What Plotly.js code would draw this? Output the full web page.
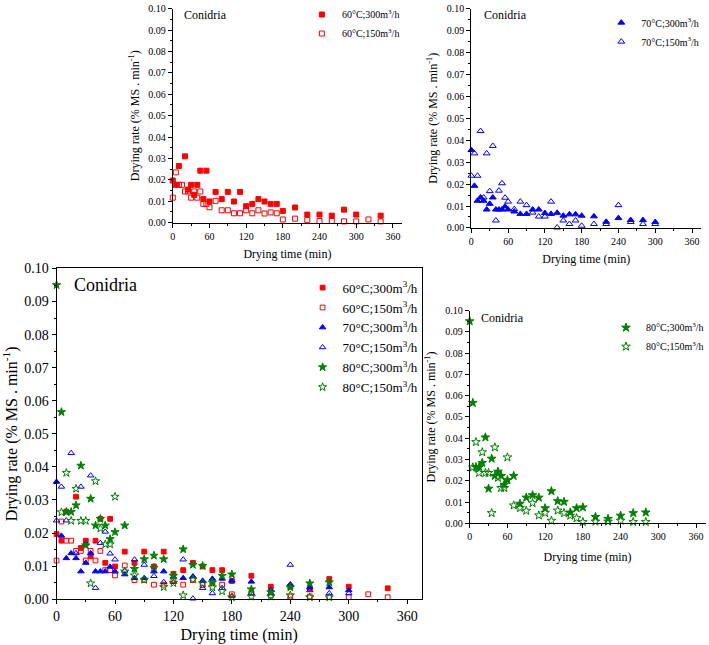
<!DOCTYPE html>
<html>
<head>
<meta charset="utf-8">
<script src="https://cdn.plot.ly/plotly-3.0.1.min.js"></script>
<style>
  html, body { margin: 0; padding: 0; background: #fff; }
  #chart { width: 709px; height: 645px; }
</style>
</head>
<body>
<div id="chart"></div>
<script>
// drying rate (% MS . min-1) vs drying time (min), Conidria
const t60_300 = [0, 5, 10, 20, 25, 30, 35, 40, 45, 50, 55, 60, 70, 80, 90, 100, 110, 120, 130, 140, 150, 160, 170, 180, 200, 220, 240, 260, 280, 300, 340];
const r60_300 = [0.0197, 0.0177, 0.0265, 0.0310, 0.0155, 0.0177, 0.0130, 0.0177, 0.0243, 0.0110, 0.0243, 0.0099, 0.0144, 0.0110, 0.0144, 0.0099, 0.0144, 0.0077, 0.0088, 0.0110, 0.0099, 0.0088, 0.0088, 0.0055, 0.0071, 0.0038, 0.0038, 0.0033, 0.0061, 0.0038, 0.0033];

const t60_150 = [0, 5, 10, 15, 20, 25, 30, 35, 40, 45, 50, 55, 60, 70, 80, 90, 100, 110, 120, 130, 140, 150, 160, 170, 180, 200, 220, 240, 260, 280, 300, 320, 340];
const r60_150 = [0.0117, 0.0235, 0.0177, 0.0177, 0.0146, 0.0146, 0.0117, 0.0146, 0.0117, 0.0146, 0.0088, 0.0088, 0.0072, 0.0102, 0.0058, 0.0058, 0.0044, 0.0044, 0.0058, 0.0044, 0.0058, 0.0043, 0.0048, 0.0044, 0.0015, 0.0019, 0.0012, 0.0008, 0.0008, 0.0006, 0.0006, 0.0015, 0.0006];

const t70_300 = [0, 5, 10, 15, 20, 25, 30, 35, 40, 45, 50, 55, 60, 70, 80, 90, 100, 110, 120, 130, 140, 150, 160, 170, 180, 200, 220, 240, 260, 280, 300];
const r70_300 = [0.0355, 0.0192, 0.0124, 0.0139, 0.0124, 0.0084, 0.0110, 0.0139, 0.0084, 0.0084, 0.0084, 0.0098, 0.0084, 0.0075, 0.0064, 0.0064, 0.0084, 0.0084, 0.0068, 0.0064, 0.0069, 0.0056, 0.0062, 0.0062, 0.0056, 0.0053, 0.0028, 0.0045, 0.0036, 0.0036, 0.0027];

const t70_150 = [0, 5, 10, 15, 20, 25, 30, 35, 40, 45, 50, 55, 60, 70, 80, 90, 100, 110, 120, 130, 140, 150, 160, 170, 180, 200, 220, 240, 260, 280, 300];
const r70_150 = [0.0238, 0.0340, 0.0238, 0.0442, 0.0139, 0.0340, 0.0168, 0.0374, 0.0034, 0.0170, 0.0204, 0.0138, 0.0120, 0.0086, 0.0120, 0.0104, 0.0070, 0.0052, 0.0052, 0.0120, 0.0002, 0.0034, 0.0018, 0.0034, 0.0010, 0.0018, 0.0018, 0.0104, 0.0027, 0.0018, 0.0018];

const t80_300 = [0, 5, 10, 15, 20, 25, 30, 35, 40, 45, 50, 55, 60, 70, 80, 90, 100, 110, 120, 130, 140, 150, 160, 170, 180, 200, 220, 240, 260, 280];
const r80_300 = [0.0950, 0.0566, 0.0264, 0.0264, 0.0284, 0.0404, 0.0163, 0.0304, 0.0223, 0.0243, 0.0223, 0.0182, 0.0203, 0.0223, 0.0092, 0.0121, 0.0132, 0.0121, 0.0071, 0.0151, 0.0104, 0.0101, 0.0051, 0.0071, 0.0075, 0.0030, 0.0021, 0.0036, 0.0048, 0.0051];

const t80_150 = [5, 10, 15, 20, 25, 30, 35, 40, 45, 50, 55, 60, 70, 80, 90, 100, 110, 120, 130, 140, 150, 160, 170, 180, 200, 220, 240, 260, 280];
const r80_150 = [0.0263, 0.0382, 0.0237, 0.0334, 0.0237, 0.0237, 0.0048, 0.0357, 0.0214, 0.0166, 0.0166, 0.0310, 0.0084, 0.0072, 0.0059, 0.0095, 0.0037, 0.0049, 0.0012, 0.0060, 0.0048, 0.0036, 0.0024, 0.0006, 0.0008, 0.0008, 0.0012, 0.0006, 0.0006];

const names = ['60°C;300m<sup>3</sup>/h', '60°C;150m<sup>3</sup>/h', '70°C;300m<sup>3</sup>/h',
               '70°C;150m<sup>3</sup>/h', '80°C;300m<sup>3</sup>/h', '80°C;150m<sup>3</sup>/h'];
const xTicks = [0, 60, 120, 180, 240, 300, 360];

const RED = '#ff0000';
const BLUE = '#0000ff';
const GREEN = '#008000';
const FONT = 'Liberation Serif';

const series = [
  { x: t60_300, y: r60_300, name: names[0], symbol: 'square', color: RED, size: 5 },
  { x: t60_150, y: r60_150, name: names[1], symbol: 'square-open', color: RED, size: 5 },
  { x: t70_300, y: r70_300, name: names[2], symbol: 'triangle-up', color: BLUE, size: 6 },
  { x: t70_150, y: r70_150, name: names[3], symbol: 'triangle-up-open', color: BLUE, size: 6 },
  { x: t80_300, y: r80_300, name: names[4], symbol: 'star', color: GREEN, size: 6.5 },
  { x: t80_150, y: r80_150, name: names[5], symbol: 'star-open', color: GREEN, size: 6.5 }
];

function makeTrace(s, xa, ya, legend, scale) {
  return {
    x: s.x, y: s.y, name: s.name,
    type: 'scatter', mode: 'markers',
    xaxis: xa, yaxis: ya, legend: legend,
    marker: { symbol: s.symbol, color: s.color, size: s.size * scale, line: { color: s.color, width: 1 } },
    cliponaxis: false
  };
}

const traces = [
  makeTrace(series[0], 'x', 'y', 'legend', 1),
  makeTrace(series[1], 'x', 'y', 'legend', 1),
  makeTrace(series[2], 'x2', 'y2', 'legend2', 1),
  makeTrace(series[3], 'x2', 'y2', 'legend2', 1),
  ...series.map(s => makeTrace(s, 'x3', 'y3', 'legend3', 0.95)),
  makeTrace(series[4], 'x4', 'y4', 'legend4', 1),
  makeTrace(series[5], 'x4', 'y4', 'legend4', 1)
];

function xAxis(domain, anchor, fs, tfs, standoff, box) {
  return {
    domain: domain, anchor: anchor, range: [0, 375],
    tickvals: xTicks, ticks: 'outside', ticklen: 4, tickwidth: 1, tickcolor: '#000',
    minor: { dtick: 30, tick0: 0, ticks: 'outside', ticklen: 2, tickcolor: '#000' },
    showgrid: false, zeroline: false, showline: true, linecolor: '#000', linewidth: 1,
    mirror: box ? true : false,
    tickfont: { family: FONT, size: fs, color: '#000' },
    title: { text: 'Drying time (min)', font: { family: FONT, size: tfs, color: '#000' }, standoff: standoff }
  };
}

function yAxis(domain, anchor, fs, tfs, standoff, box) {
  return {
    domain: domain, anchor: anchor, range: [0, 0.1],
    dtick: 0.01, tick0: 0, tickformat: '.2f', ticks: 'outside', ticklen: 4, tickwidth: 1, tickcolor: '#000',
    minor: { dtick: 0.005, tick0: 0, ticks: 'outside', ticklen: 2, tickcolor: '#000' },
    showgrid: false, zeroline: false, showline: true, linecolor: '#000', linewidth: 1,
    mirror: box ? true : false,
    tickfont: { family: FONT, size: fs, color: '#000' },
    title: { text: 'Drying rate (% MS . min<sup>-1</sup>)', font: { family: FONT, size: tfs, color: '#000' }, standoff: standoff }
  };
}

function legendAt(x, y, fs) {
  return {
    x: x, y: y, xanchor: 'left', yanchor: 'top',
    bgcolor: 'rgba(0,0,0,0)', borderwidth: 0,
    font: { family: FONT, size: fs, color: '#000' },
    itemwidth: 30, tracegroupgap: 0
  };
}

function label(x, y, fs) {
  return {
    text: 'Conidria', xref: 'paper', yref: 'paper', x: x, y: y,
    xanchor: 'left', yanchor: 'middle', showarrow: false,
    font: { family: FONT, size: fs, color: '#000' }
  };
}

const layout = {
  width: 709, height: 645,
  margin: { l: 0, r: 0, t: 0, b: 0 },
  paper_bgcolor: '#fff', plot_bgcolor: 'rgba(0,0,0,0)',
  font: { family: FONT, color: '#000' },
  showlegend: true,
  xaxis: xAxis([0.2444, 0.5687], 'y', 10, 12, 8, false),
  yaxis: yAxis([0.6578, 0.9912], 'x', 10, 12, 6, false),
  xaxis2: xAxis([0.6667, 0.9918], 'y2', 10, 12, 8, false),
  yaxis2: yAxis([0.6496, 0.9912], 'x2', 10, 12, 6, false),
  xaxis3: xAxis([0.0800, 0.5966], 'y3', 14, 16, 5, true),
  yaxis3: yAxis([0.0713, 0.5865], 'x3', 14, 16, 8, true),
  xaxis4: xAxis([0.6643, 0.9979], 'y4', 10, 12, 11, false),
  yaxis4: yAxis([0.1896, 0.5209], 'x4', 10, 12, 6, false),
  legend: legendAt(0.427, 1.005, 10),
  legend2: legendAt(0.8505, 0.992, 10),
  legend3: legendAt(0.428, 0.580, 13),
  legend4: legendAt(0.8575, 0.517, 10),
  annotations: [
    label(0.258, 0.9814, 12),
    label(0.6812, 0.9814, 12),
    label(0.1016, 0.5612, 18),
    label(0.677, 0.510, 12)
  ]
};

Plotly.newPlot('chart', traces, layout, { displayModeBar: false, staticPlot: true });
</script>
</body>
</html>
